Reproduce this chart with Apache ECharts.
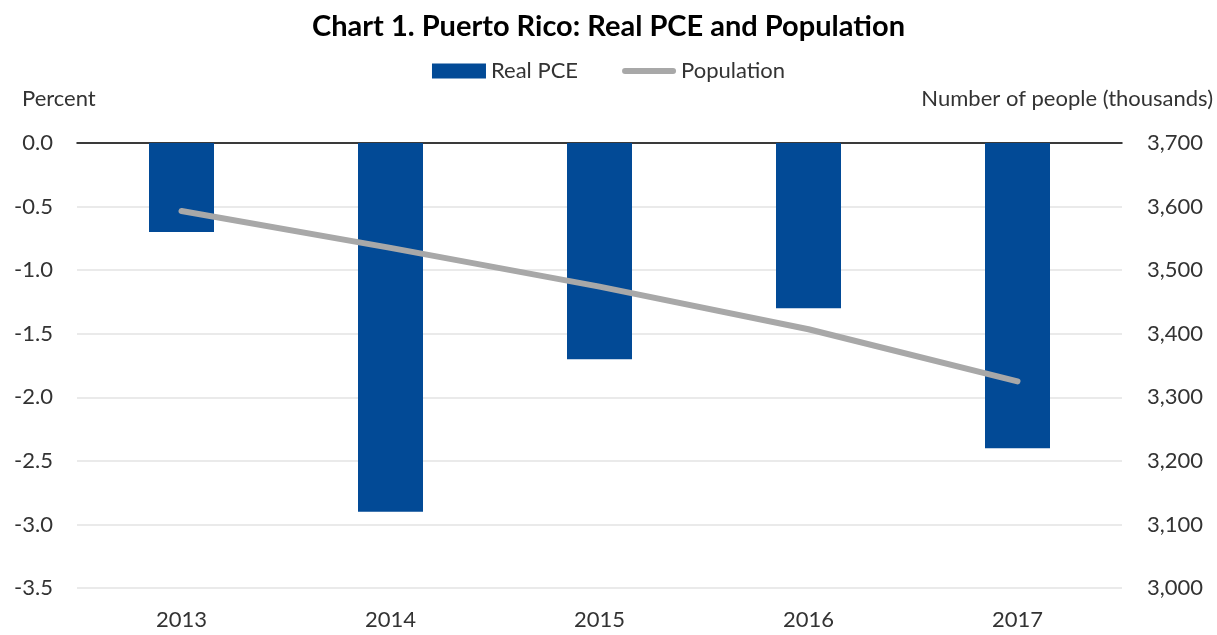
<!DOCTYPE html>
<html>
<head>
<meta charset="utf-8">
<script src="https://cdn.jsdelivr.net/npm/echarts@6/dist/echarts.min.js"></script>
<style>
  html, body { margin: 0; padding: 0; background: #fff; }
  #chart { width: 1217px; height: 635px; }
</style>
</head>
<body>
<div id="chart"></div>
<script>
// categories and values
const years = ['2013', '2014', '2015', '2016', '2017']
const realPce = [-0.7, -2.9, -1.7, -1.3, -2.4]           // percent
const population = [3593, 3535, 3474, 3407, 3325]        // thousands

// axis ranges
const pctRange = [-3.5, 0, 0.5]        // min, max, interval
const popRange = [3000, 3700, 100]

const font = 'Lato, "Open Sans", sans-serif'
const labelColor = '#333'
const fontSize = 22

const chart = echarts.init(document.getElementById('chart'))

const option = {
  backgroundColor: '#fff',
  animation: false,
  textStyle: { fontFamily: font },
  title: {
    text: 'Chart 1. Puerto Rico: Real PCE and Population',
    left: 'center',
    top: 7,
    textStyle: { fontFamily: font, fontWeight: 'bold', fontSize: 29, color: '#000' }
  },
  legend: {
    top: 55,
    left: 'center',
    itemWidth: 54,
    itemHeight: 15,
    itemGap: 44,
    textStyle: { fontFamily: font, fontSize: fontSize, color: labelColor },
    data: [
      { name: 'Real PCE', icon: 'rect' },
      { name: 'Population', icon: 'path://M3,0 L51,0 A3,3 0 0 1 51,6 L3,6 A3,3 0 0 1 3,0 Z' }
    ]
  },
  graphic: [
    {
      type: 'text', left: 22, top: 88,
      style: { text: 'Percent', font: fontSize + 'px ' + font, fill: labelColor }
    },
    {
      type: 'text', right: 4, top: 88,
      style: { text: 'Number of people (thousands)', font: fontSize + 'px ' + font, fill: labelColor }
    }
  ],
  grid: { left: 77, right: 95, top: 143, bottom: 47 },
  xAxis: [
    {
      type: 'category',
      position: 'bottom',
      data: years,
      axisLine: { show: false, onZero: false },
      axisTick: { show: false },
      axisLabel: { fontFamily: font, fontSize: fontSize, color: labelColor, margin: 21 }
    },
    {
      // black zero line along the top
      type: 'category',
      position: 'top',
      data: years,
      axisLine: { show: true, onZero: false, lineStyle: { color: '#000', width: 1.5 } },
      axisTick: { show: false },
      axisLabel: { show: false }
    }
  ],
  yAxis: [
    {
      type: 'value',
      min: pctRange[0],
      max: pctRange[1],
      interval: pctRange[2],
      axisLine: { show: false },
      axisTick: { show: false },
      splitLine: { lineStyle: { color: '#e3e3e3', width: 1.5 } },
      axisLabel: {
        fontFamily: font, fontSize: fontSize, color: labelColor, margin: 24,
        formatter: v => v.toFixed(1)
      }
    },
    {
      type: 'value',
      min: popRange[0],
      max: popRange[1],
      interval: popRange[2],
      axisLine: { show: false },
      axisTick: { show: false },
      splitLine: { show: false },
      axisLabel: {
        fontFamily: font, fontSize: fontSize, color: labelColor, margin: 25,
        formatter: v => v.toLocaleString('en-US')
      }
    }
  ],
  series: [
    {
      name: 'Real PCE',
      type: 'bar',
      xAxisIndex: 0,
      yAxisIndex: 0,
      barWidth: 65,
      itemStyle: { color: '#024a96' },
      data: realPce
    },
    {
      name: 'Population',
      type: 'line',
      xAxisIndex: 0,
      yAxisIndex: 1,
      symbol: 'none',
      lineStyle: { color: '#a8a8a8', width: 6, cap: 'round' },
      itemStyle: { color: '#a8a8a8' },
      data: population
    }
  ]
}

chart.setOption(option)
</script>
</body>
</html>
